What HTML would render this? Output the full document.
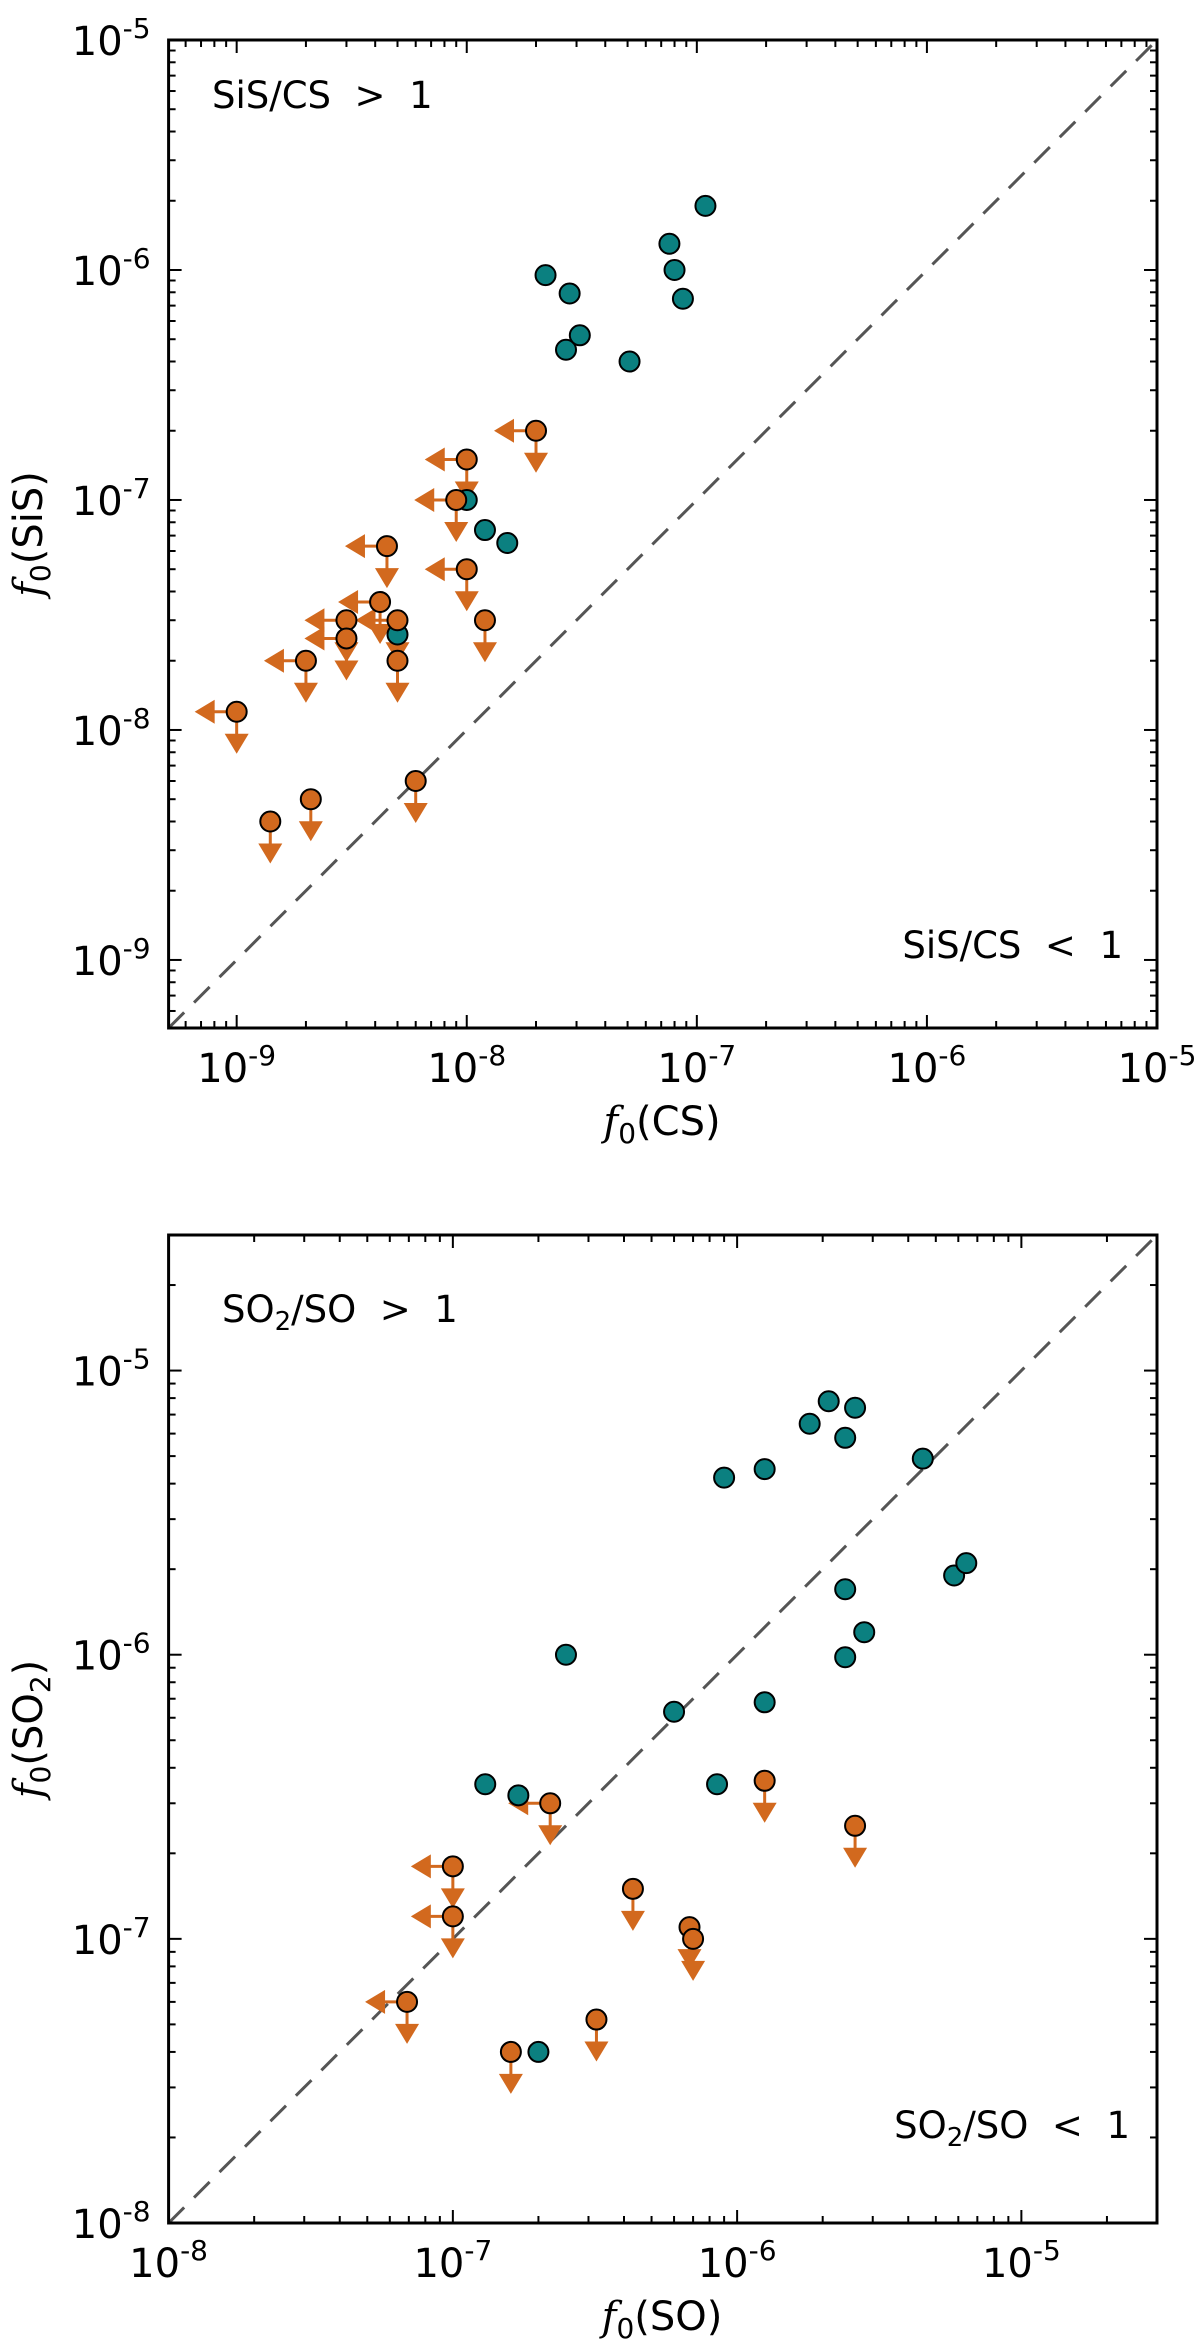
<!DOCTYPE html>
<html><head><meta charset="utf-8">
<style>
html,body{margin:0;padding:0;background:#fff;}
svg{display:block;}
text{font-family:"DejaVu Sans","Liberation Sans",sans-serif;fill:#000;}
.it{font-family:"DejaVu Serif","Liberation Serif",serif;font-style:italic;}
</style></head>
<body>
<svg id="fig" width="1200" height="2345" viewBox="0 0 1200 2345" xmlns="http://www.w3.org/2000/svg">
  <g id="p1"></g>
  <g id="p2"></g>
  <text x="212" y="108" font-size="37">SiS/CS &#160;&gt;&#160; 1</text>
  <text x="1123" y="958" font-size="37" text-anchor="end">SiS/CS &#160;&lt;&#160; 1</text>
  <text x="222" y="1322" font-size="37">SO<tspan font-size="26" dy="8">2</tspan><tspan dy="-8">/SO &#160;&gt;&#160; 1</tspan></text>
  <text x="1130" y="2138" font-size="37" text-anchor="end">SO<tspan font-size="26" dy="8">2</tspan><tspan dy="-8">/SO &#160;&lt;&#160; 1</tspan></text>
  <text x="662" y="1135" font-size="40" text-anchor="middle"><tspan class="it">f</tspan><tspan font-size="28" dy="8">0</tspan><tspan dy="-8">(CS)</tspan></text>
  <text x="662" y="2330" font-size="40" text-anchor="middle"><tspan class="it">f</tspan><tspan font-size="28" dy="8">0</tspan><tspan dy="-8">(SO)</tspan></text>
  <text transform="translate(42,534) rotate(-90)" font-size="40" text-anchor="middle"><tspan class="it">f</tspan><tspan font-size="28" dy="8">0</tspan><tspan dy="-8">(SiS)</tspan></text>
  <text transform="translate(42,1729) rotate(-90)" font-size="40" text-anchor="middle"><tspan class="it">f</tspan><tspan font-size="28" dy="8">0</tspan><tspan dy="-8">(SO</tspan><tspan font-size="28" dy="8">2</tspan><tspan dy="-8">)</tspan></text>
</svg>
<script>
// ---- Panel 1 data: SiS vs CS ----
const p1TealX = [1.09e-7,7.6e-8,8e-8,8.7e-8,2.2e-8,2.8e-8,2.7e-8,3.1e-8,5.1e-8,1e-8,1.2e-8,1.5e-8,5e-9];
const p1TealY = [1.9e-6,1.3e-6,1e-6,7.5e-7,9.5e-7,7.9e-7,4.5e-7,5.2e-7,4e-7,1e-7,7.4e-8,6.5e-8,2.6e-8];
const p1LimX = [1e-8,2e-8,9e-9,4.5e-9,1e-8,1.2e-8,4.2e-9,3e-9,3e-9,5e-9,5e-9,2e-9,1e-9,1.4e-9,2.1e-9,6e-9];
const p1LimY = [1.5e-7,2e-7,1e-7,6.3e-8,5e-8,3e-8,3.6e-8,3e-8,2.5e-8,3e-8,2e-8,2e-8,1.2e-8,4e-9,5e-9,6e-9];
const p1LimLeft = [1,1,1,1,1,0,1,1,1,1,0,1,1,0,0,0];
const p1Ticks = [-9,-8,-7,-6,-5];
// ---- Panel 2 data: SO2 vs SO ----
const p2TealX = [2.5e-7,1.3e-7,1.7e-7,2e-7,6e-7,8.5e-7,9e-7,1.25e-6,1.25e-6,1.8e-6,2.1e-6,2.4e-6,2.6e-6,2.4e-6,2.4e-6,2.8e-6,4.5e-6,5.8e-6,6.4e-6];
const p2TealY = [1e-6,3.5e-7,3.2e-7,4e-8,6.3e-7,3.5e-7,4.2e-6,6.8e-7,4.5e-6,6.5e-6,7.8e-6,5.8e-6,7.4e-6,1.7e-6,9.8e-7,1.2e-6,4.9e-6,1.9e-6,2.1e-6];
const p2LimX = [1e-7,1e-7,6.9e-8,2.2e-7,1.6e-7,3.2e-7,4.3e-7,6.8e-7,7e-7,1.25e-6,2.6e-6];
const p2LimY = [1.8e-7,1.2e-7,6e-8,3e-7,4e-8,5.2e-8,1.5e-7,1.1e-7,1e-7,3.6e-7,2.5e-7];
const p2LimLeft = [1,1,1,1,0,0,0,0,0,0,0];
const p2XTicks = [-8,-7,-6,-5];
const p2YTicks = [-8,-7,-6,-5];

const NS = "http://www.w3.org/2000/svg";
const TEAL = "#0b8080", ORANGE = "#d2691e";
function mk(parent, tag, attrs){
  const e = document.createElementNS(NS, tag);
  for (const k in attrs) e.setAttribute(k, attrs[k]);
  parent.appendChild(e);
  return e;
}
function drawPanel(g, cfg){
  const {L,R,T,B,lmin,lmax,tealX,tealY,limX,limY,limLeft,xTicks,yTicks,pfx} = cfg;
  const sx = v => L + (Math.log10(v)-lmin)/(lmax-lmin)*(R-L);
  const sy = v => B - (Math.log10(v)-lmin)/(lmax-lmin)*(B-T);
  const sxl = l => L + (l-lmin)/(lmax-lmin)*(R-L);
  const syl = l => B - (l-lmin)/(lmax-lmin)*(B-T);
  for (let d=Math.floor(lmin); d<=Math.ceil(lmax); d++){
    for (let m=1;m<=9;m++){
      const l = d + Math.log10(m);
      if (l < lmin-1e-9 || l > lmax+1e-9) continue;
      const len = m===1 ? 13 : 7;
      const x = sxl(l), y = syl(l);
      let t;
      t = mk(g,'line',{x1:x,y1:B,x2:x,y2:B-len,stroke:'#000','stroke-width':2});
      
      
      t = mk(g,'line',{x1:x,y1:T,x2:x,y2:T+len,stroke:'#000','stroke-width':2});
      
      
      t = mk(g,'line',{x1:L,y1:y,x2:L+len,y2:y,stroke:'#000','stroke-width':2});
      
      
      t = mk(g,'line',{x1:R,y1:y,x2:R-len,y2:y,stroke:'#000','stroke-width':2});
      
      
    }
  }
  xTicks.forEach(l=>{
    const t = mk(g,'text',{x:sxl(l),y:B+54,'font-size':40,'text-anchor':'middle'});
    
    
    t.innerHTML = '10<tspan font-size="28" dy="-17">'+l+'</tspan>';
  });
  yTicks.forEach(l=>{
    const t = mk(g,'text',{x:L-18,y:syl(l)+15,'font-size':40,'text-anchor':'end'});
    
    
    t.innerHTML = '10<tspan font-size="28" dy="-17">'+l+'</tspan>';
  });
  const cp = mk(g,'clipPath',{id:pfx+'clip'});
  mk(cp,'rect',{x:L,y:T,width:R-L,height:B-T});
  const dl = mk(g,'line',{x1:sxl(lmin),y1:syl(lmin),x2:sxl(lmax),y2:syl(lmax),stroke:'#555','stroke-width':3,'stroke-dasharray':'22 14','clip-path':'url(#'+pfx+'clip)'});
  
  
  limX.forEach((v,i)=>{
    const cx = sx(v), cy = sy(limY[i]);
    const a = mk(g,'g',{});
    
    
    mk(a,'line',{x1:cx,y1:cy,x2:cx,y2:cy+24,stroke:ORANGE,'stroke-width':3});
    mk(a,'polygon',{points:`${cx-12},${cy+22} ${cx+12},${cy+22} ${cx},${cy+42}`,fill:ORANGE});
    if (limLeft[i]){
      mk(a,'line',{x1:cx,y1:cy,x2:cx-24,y2:cy,stroke:ORANGE,'stroke-width':3});
      mk(a,'polygon',{points:`${cx-22},${cy-12} ${cx-22},${cy+12} ${cx-42},${cy}`,fill:ORANGE});
    }
  });
  tealX.forEach((v,i)=>{
    const c = mk(g,'circle',{cx:sx(v),cy:sy(tealY[i]),r:10,fill:TEAL,stroke:'#000','stroke-width':2});
    
    
  });
  limX.forEach((v,i)=>{
    const c = mk(g,'circle',{cx:sx(v),cy:sy(limY[i]),r:10,fill:ORANGE,stroke:'#000','stroke-width':2});
    
    
  });
  const f = mk(g,'rect',{x:L,y:T,width:R-L,height:B-T,fill:'none',stroke:'#000','stroke-width':3});
  
  
}
drawPanel(document.getElementById('p1'),{L:168.6,R:1157,T:40,B:1028,lmin:Math.log10(5.06e-10),lmax:-5,
  tealX:p1TealX,tealY:p1TealY,limX:p1LimX,limY:p1LimY,limLeft:p1LimLeft,xTicks:p1Ticks,yTicks:p1Ticks,pfx:'top-'});
drawPanel(document.getElementById('p2'),{L:168.6,R:1157,T:1235,B:2223,lmin:-8,lmax:Math.log10(3.0e-5),
  tealX:p2TealX,tealY:p2TealY,limX:p2LimX,limY:p2LimY,limLeft:p2LimLeft,xTicks:p2XTicks,yTicks:p2YTicks,pfx:'bottom-'});
</script>
</body></html>
